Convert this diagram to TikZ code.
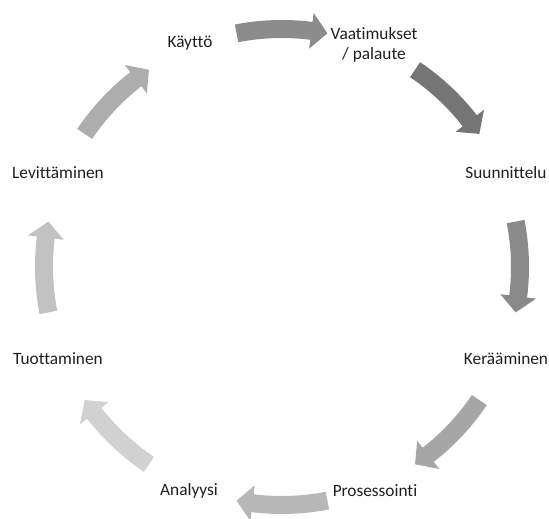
\documentclass[tikz,border=0pt]{standalone}
\usepackage{fontspec}
\setmainfont[Ligatures=NoCommon]{Carlito}
\usetikzlibrary{calc}

\tikzset{
  stage/.style={text=black!88, align=center, inner sep=0pt,
    font=\fontsize{17.3}{20.5}\selectfont},
}

% Curved block arrow running clockwise round the centre (c):
% #1 tail angle, #2 tip angle, #3 fill colour
\newcommand\cyclearrow[3]{%
  \pgfmathsetmacro\hb{#2+3.9}%
  \fill[#3]
    ([shift={(#1:247)}]c) arc[start angle=#1, end angle=\hb, radius=247]
    -- ([shift={(\hb:256)}]c)
    -- ([shift={(#2:238)}]c)
    -- ([shift={(\hb:220)}]c)
    -- ([shift={(\hb:229)}]c) arc[start angle=\hb, end angle=#1, radius=229]
    -- cycle;
}

\begin{document}
\begin{tikzpicture}[x=1pt, y=1pt]
  \useasboundingbox (0,0) rectangle (549,519);
  \clip (0,0) rectangle (549,519);
  \coordinate (c) at (282,252);

  % stage labels
  \node[stage] (kaytto) at (190,476) {Käyttö};
  \node[stage] (vaatimukset) at (374,474) {Vaatimukset\\/ palaute};
  \node[stage] (suunnittelu) at (506,346) {Suunnittelu};
  \node[stage] (keraaminen) at (506,160) {Kerääminen};
  \node[stage] (prosessointi) at (375,28) {Prosessointi};
  \node[stage] (analyysi) at (189,28) {Analyysi};
  \node[stage] (tuottaminen) at (58,160) {Tuottaminen};
  \node[stage] (levittaminen) at (58,346) {Levittäminen};

  % arrows between the stages
  \cyclearrow{101}{79}{black!45}
  \cyclearrow{56}{34}{black!54}
  \cyclearrow{11}{-11}{black!46}
  \cyclearrow{-34}{-56}{black!35}
  \cyclearrow{-79}{-101}{black!28}
  \cyclearrow{-124}{-146}{black!18}
  \cyclearrow{-169}{-191}{black!24}
  \cyclearrow{146}{124}{black!32}
\end{tikzpicture}
\end{document}
